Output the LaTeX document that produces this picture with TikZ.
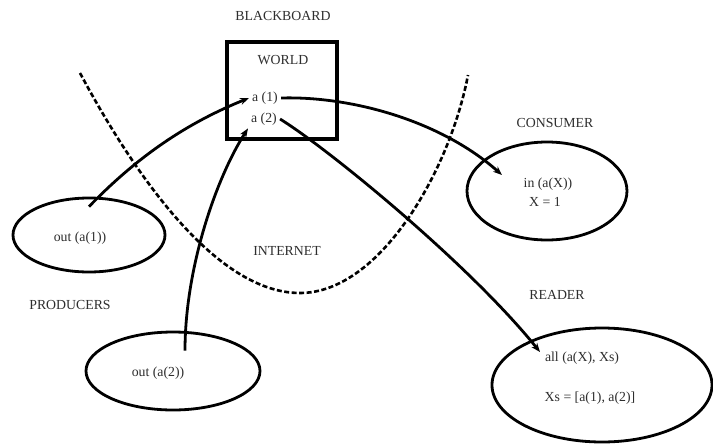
\documentclass[tikz,border=0pt]{standalone}
\usepackage{fontspec}
\setmainfont{Liberation Serif}
\usetikzlibrary{shapes.geometric,arrows.meta}
\definecolor{inkgray}{HTML}{2E2E2E}
\tikzset{
  lbl/.style={text=inkgray, font=\fontsize{13.8}{15}\selectfont, inner sep=3pt},
  oval/.style={ellipse, draw=black, line width=2.8pt, inner sep=0pt},
  link/.style={line width=2.8pt, -{Stealth[length=9pt,width=7pt]}},
  net/.style={line width=2.6pt, dash pattern=on 5pt off 2.5pt},
}
\begin{document}
\begin{tikzpicture}[x=1pt,y=-1pt]
\useasboundingbox[fill=white] (0,0) rectangle (713,445);

% blackboard holding the tuple space
\node[lbl] (bbtitle) at (283,16) {BLACKBOARD};
\node[draw=black, line width=3.4pt, minimum width=110pt, minimum height=97pt, inner sep=0pt] (box) at (282,90.5) {};
\node[lbl] (world) at (283,60) {WORLD};
\node[lbl] (a1) at (265,98) {a (1)};
\node[lbl] (a2) at (264,119) {a (2)};

% internet boundary
\draw[net] (80,73) .. controls (140,185) and (220,293) .. (300,293)
                   .. controls (380,293) and (450,170) .. (468,75);
\node[lbl] (inet) at (287,251) {INTERNET};

% producers
\node[oval, minimum width=152pt, minimum height=74pt] (e1) at (89,235) {};
\node[lbl] (t1) at (80,238) {out (a(1))};
\node[oval, minimum width=174pt, minimum height=78pt] (e2) at (173,371) {};
\node[lbl] (t2) at (158,373) {out (a(2))};
\node[lbl] (prod) at (70,305) {PRODUCERS};

% consumer
\node[lbl] (cons) at (555,123) {CONSUMER};
\node[oval, minimum width=160pt, minimum height=98pt] (econ) at (547,191) {};
\node[lbl] (tc1) at (548,184) {in (a(X))};
\node[lbl] (tc2) at (545,202) {X = 1};

% reader
\node[lbl] (read) at (557,295) {READER};
\node[oval, minimum width=220pt, minimum height=114pt] (eread) at (602,385) {};
\node[lbl] (tr1) at (582,358) {all (a(X), Xs)};
\node[lbl] (tr2) at (590,398) {Xs = [a(1), a(2)]};

% tuple traffic
\draw[link] ([yshift=-10pt]e1.north) .. controls (138,156) and (187,123) .. (a1.west);
\draw[link] (a1.east) .. controls (350,96) and (440,120) .. ([shift={(-45pt,16pt)}]econ.center);
\draw[link] ([shift={(12pt,-20pt)}]e2.north) .. controls (185,270) and (215,180) .. (a2.south west);
\draw[link] (a2.east) .. controls (330,150) and (470,265) .. ([shift={(-62pt,33pt)}]eread.center);
\end{tikzpicture}
\end{document}
